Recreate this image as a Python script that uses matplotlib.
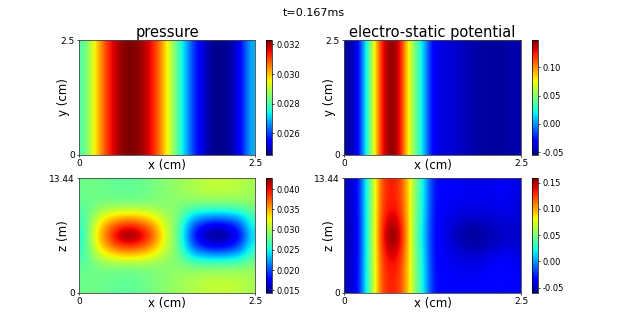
import numpy as np
import matplotlib
matplotlib.use("Agg")
import matplotlib.pyplot as plt

W = 628.0
H = 335.0

# valores, 21 colunas de x=0 a x=2.5
pressure_xy = [0.0280, 0.0291, 0.0303, 0.0313, 0.0319, 0.0323, 0.0323, 0.0321, 0.0316, 0.0308, 0.0296,
               0.0284, 0.0272, 0.0261, 0.0253, 0.0248, 0.0246, 0.0247, 0.0249, 0.0257, 0.0269]

potential_xy = [-0.049, -0.041, 0.012, 0.067, 0.128, 0.148, 0.138, 0.083, 0.042, 0.010, -0.033,
                -0.037, -0.039, -0.041, -0.045, -0.047, -0.049, -0.049, -0.049, -0.048, -0.046]

# 11 linhas, de z=13.44 ate z=0
pressure_xz = [
    [.0280, .0282, .0280, .0278, .0276, .0275, .0276, .0279, .0282, .0286, .0290, .0294, .0298, .0302, .0306, .0309, .0310, .0310, .0308, .0305, .0300],
    [.0280, .0282, .0281, .0279, .0278, .0278, .0278, .0280, .0283, .0287, .0290, .0293, .0297, .0300, .0303, .0305, .0306, .0305, .0304, .0302, .0298],
    [.0276, .0280, .0284, .0286, .0286, .0286, .0286, .0287, .0288, .0288, .0288, .0290, .0288, .0286, .0284, .0284, .0284, .0284, .0286, .0288, .0292],
    [.0268, .0288, .0308, .0322, .0330, .0333, .0333, .0330, .0322, .0310, .0298, .0290, .0268, .0245, .0238, .0234, .0232, .0234, .0238, .0245, .0268],
    [.0262, .0300, .0335, .0360, .0378, .0388, .0388, .0378, .0362, .0338, .0310, .0288, .0250, .0210, .0186, .0174, .0170, .0174, .0186, .0210, .0250],
    [.0255, .0305, .0345, .0378, .0412, .0428, .0428, .0412, .0388, .0348, .0315, .0287, .0242, .0192, .0162, .0147, .0143, .0148, .0162, .0188, .0240],
    [.0260, .0300, .0335, .0360, .0378, .0388, .0388, .0378, .0362, .0338, .0310, .0288, .0250, .0210, .0186, .0174, .0170, .0174, .0186, .0210, .0250],
    [.0266, .0288, .0308, .0322, .0330, .0333, .0333, .0330, .0322, .0310, .0298, .0290, .0268, .0245, .0238, .0234, .0232, .0234, .0238, .0245, .0268],
    [.0276, .0280, .0284, .0286, .0286, .0286, .0286, .0287, .0288, .0288, .0288, .0291, .0289, .0287, .0285, .0285, .0285, .0285, .0287, .0289, .0293],
    [.0280, .0282, .0281, .0279, .0278, .0276, .0278, .0281, .0284, .0288, .0291, .0295, .0298, .0301, .0304, .0306, .0307, .0307, .0306, .0304, .0300],
    [.0280, .0282, .0280, .0278, .0276, .0274, .0276, .0279, .0282, .0287, .0291, .0295, .0299, .0303, .0306, .0309, .0311, .0311, .0309, .0306, .0301],
]

potential_xz = [
    [-.047, -.040, .012, .067, .124, .134, .130, .098, .050, .017, -.027, -.034, -.036, -.036, -.038, -.038, -.038, -.038, -.036, -.036, -.040],
    [-.047, -.040, .012, .067, .124, .134, .130, .098, .050, .017, -.027, -.034, -.037, -.037, -.038, -.038, -.038, -.038, -.037, -.037, -.041],
    [-.047, -.041, .012, .067, .125, .136, .132, .099, .049, .016, -.027, -.035, -.037, -.038, -.039, -.039, -.039, -.039, -.038, -.038, -.042],
    [-.048, -.041, .012, .067, .127, .141, .137, .100, .048, .015, -.028, -.036, -.039, -.041, -.043, -.043, -.043, -.042, -.041, -.040, -.043],
    [-.048, -.042, .012, .067, .130, .151, .145, .101, .046, .013, -.029, -.037, -.041, -.046, -.050, -.050, -.049, -.047, -.045, -.044, -.045],
    [-.049, -.042, .012, .067, .132, .159, .151, .102, .045, .012, -.029, -.038, -.043, -.049, -.054, -.055, -.053, -.050, -.048, -.046, -.046],
    [-.048, -.042, .012, .067, .130, .152, .145, .101, .046, .013, -.029, -.037, -.041, -.046, -.050, -.051, -.050, -.047, -.044, -.042, -.044],
    [-.048, -.041, .012, .067, .127, .142, .137, .100, .048, .015, -.028, -.036, -.039, -.041, -.043, -.044, -.043, -.040, -.038, -.037, -.041],
    [-.047, -.041, .012, .067, .125, .136, .132, .099, .049, .016, -.027, -.035, -.037, -.038, -.039, -.039, -.038, -.036, -.034, -.034, -.039],
    [-.047, -.040, .012, .067, .124, .134, .130, .098, .050, .017, -.027, -.034, -.036, -.037, -.037, -.037, -.036, -.034, -.032, -.032, -.038],
    [-.047, -.040, .012, .067, .124, .133, .129, .098, .050, .017, -.027, -.033, -.035, -.036, -.036, -.036, -.035, -.033, -.031, -.031, -.038],
]

titulo = "t=0.167ms"
xlabel = "x (cm)"
x_ticks = [0, 2.5]
x_ticklabels = ["0", "2.5"]
y_ticks = [0, 2.5]
y_ticklabels = ["0", "2.5"]
z_ticks = [0, 13.44]
z_ticklabels = ["0", "13.44"]

cb_pressure_xy = [0.026, 0.028, 0.030, 0.032]
cb_potential = [-0.05, 0.00, 0.05, 0.10]
cb_pressure_xz = [0.015, 0.020, 0.025, 0.030, 0.035, 0.040]
cb_potential_xz = [-0.05, 0.00, 0.05, 0.10, 0.15]


def box(x0, y0, x1, y1):
    # caixa em pixels da imagem para coordenadas da figura
    return [x0 / W, 1 - y1 / H, (x1 - x0) / W, (y1 - y0) / H]


def painel(fig, dados, pos, cbpos, title, ylabel, yt, ytl, top, cbticks, fmt, vmin, vmax, ylab_x):
    ax = fig.add_axes(box(*pos))
    im = ax.imshow(dados, cmap="jet", aspect="auto", interpolation="bicubic",
                   extent=[0, 2.5, 0, top], vmin=vmin, vmax=vmax)
    ax.set_xticks(x_ticks)
    ax.set_xticklabels(x_ticklabels)
    ax.set_yticks(yt)
    ax.set_yticklabels(ytl)
    ax.tick_params(labelsize=6.5, length=1.5, width=0.5, pad=1.5)
    ax.set_xlabel(xlabel, fontsize=8.5, va="center")
    ax.xaxis.set_label_coords(0.5, -0.087)
    ax.set_ylabel(ylabel, fontsize=8.5, va="center")
    ax.yaxis.set_label_coords(ylab_x, 0.5)
    if title:
        ax.set_title(title, fontsize=10.5, pad=0.5)
    for s in ax.spines.values():
        s.set_linewidth(0.6)
        s.set_color("#444444")
    cax = fig.add_axes(box(*cbpos))
    cb = fig.colorbar(im, cax=cax)
    cb.set_ticks(cbticks)
    cb.set_ticklabels([fmt % v for v in cbticks])
    cb.ax.tick_params(labelsize=6, length=1.5, width=0.5, pad=1.5)
    cb.outline.set_linewidth(0.5)


if __name__ == "__main__":
    fig = plt.figure(figsize=(W / 100, H / 100), dpi=100)
    fig.suptitle(titulo, fontsize=8, x=0.5, y=0.975)

    painel(fig, [pressure_xy, pressure_xy], (79, 40, 255, 155), (266, 40, 272, 155),
           "pressure", "y (cm)", y_ticks, y_ticklabels, 2.5, cb_pressure_xy, "%.3f", 0.02454, 0.0323, -0.09)
    painel(fig, [potential_xy, potential_xy], (344, 40, 521, 155), (532, 40, 538, 155),
           "electro-static potential", "y (cm)", y_ticks, y_ticklabels, 2.5, cb_potential,
           "%.2f", -0.055, 0.148, -0.08)
    painel(fig, pressure_xz, (79, 178, 255, 293), (266, 178, 272, 293),
           "", "z (m)", z_ticks, z_ticklabels, 13.44, cb_pressure_xz, "%.3f", 0.0143, 0.0428, -0.09)
    painel(fig, potential_xz, (344, 178, 521, 293), (532, 178, 538, 293),
           "", "z (m)", z_ticks, z_ticklabels, 13.44, cb_potential_xz, "%.2f", -0.060, 0.159, -0.08)

    plt.savefig("out.png", dpi=100)
